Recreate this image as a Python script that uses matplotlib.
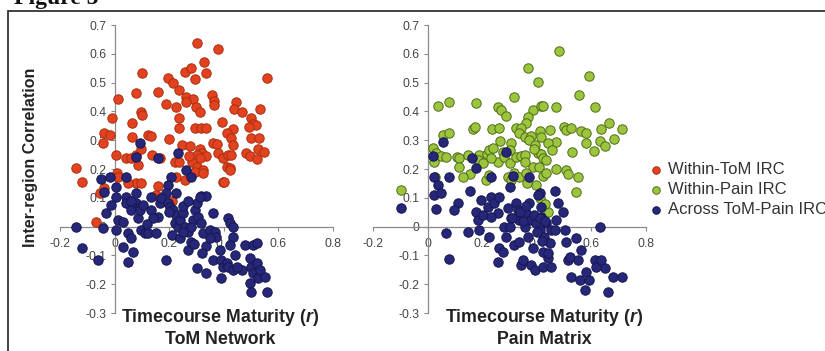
import numpy as np
import matplotlib
matplotlib.use('Agg')
import matplotlib.pyplot as plt
from matplotlib.ticker import FuncFormatter
from matplotlib.patches import Rectangle

plt.rcParams['font.family'] = ['Liberation Sans', 'DejaVu Sans']
plt.rcParams['mathtext.fontset'] = 'custom'
plt.rcParams['mathtext.it'] = 'Liberation Sans:bold:italic'
plt.rcParams['mathtext.rm'] = 'Liberation Sans:bold'

# ---- data: (timecourse maturity r, inter-region correlation)
within_tom = [
    (0.300, 0.636), (0.377, 0.615), (0.327, 0.573), (0.559, 0.515), (0.257, 0.538), (0.279, 0.550),
    (0.334, 0.534), (0.296, 0.511), (0.100, 0.534), (0.194, 0.515), (0.214, 0.497), (0.235, 0.476),
    (0.159, 0.468), (0.013, 0.442), (0.080, 0.463), (0.188, 0.426), (0.224, 0.416), (0.260, 0.450),
    (0.287, 0.443), (0.260, 0.434), (0.355, 0.457), (0.363, 0.437), (0.363, 0.422), (0.297, 0.414),
    (0.312, 0.399), (0.446, 0.434), (0.437, 0.408), (0.468, 0.399), (0.532, 0.410), (0.095, 0.399),
    (0.100, 0.388), (0.065, 0.361), (-0.009, 0.376), (0.236, 0.376), (0.236, 0.343), (0.294, 0.341),
    (0.318, 0.343), (0.333, 0.343), (0.394, 0.364), (0.435, 0.338), (0.410, 0.324), (0.499, 0.376),
    (0.508, 0.355), (0.518, 0.353), (0.493, 0.347), (-0.037, 0.324), (-0.018, 0.318), (-0.043, 0.289),
    (0.065, 0.310), (0.122, 0.318), (0.135, 0.314), (0.198, 0.303), (0.361, 0.289), (0.376, 0.286),
    (0.426, 0.306), (0.435, 0.283), (0.498, 0.306), (0.528, 0.306), (0.248, 0.283), (0.275, 0.279),
    (0.312, 0.271), (0.320, 0.256), (0.300, 0.248), (0.336, 0.245), (0.312, 0.237), (0.379, 0.254),
    (0.398, 0.237), (0.416, 0.248), (0.428, 0.248), (0.483, 0.256), (0.495, 0.245), (0.520, 0.233),
    (0.526, 0.271), (0.547, 0.260), (0.006, 0.248), (0.043, 0.237), (0.061, 0.237), (0.080, 0.248),
    (0.095, 0.271), (0.137, 0.248), (0.165, 0.237), (0.220, 0.225), (0.236, 0.225), (0.284, 0.225),
    (0.273, 0.245), (0.300, 0.208), (0.322, 0.197), (0.410, 0.208), (0.422, 0.202), (0.398, 0.156),
    (-0.143, 0.202), (-0.119, 0.156), (0.257, 0.162), (0.086, 0.214), (0.080, 0.150), (0.098, 0.150),
    (0.159, 0.141), (0.226, 0.173), (0.049, 0.150), (-0.055, 0.116), (-0.037, 0.133), (-0.067, 0.017),
    (0.009, 0.185), (0.012, 0.173), (0.153, 0.110), (0.294, 0.190), (0.324, 0.185), (0.400, 0.156),
    (0.422, 0.196), (0.210, 0.090),
]

across_tom = [
    (0.092, 0.289), (0.077, 0.240), (0.159, 0.237), (0.232, 0.256), (0.260, 0.197), (0.281, 0.173),
    (-0.049, 0.164), (-0.016, 0.173), (0.040, 0.171), (0.006, 0.139), (-0.039, 0.121), (0.208, 0.173),
    (0.196, 0.144), (0.190, 0.115), (0.226, 0.115), (0.318, 0.107), (0.336, 0.107), (0.080, 0.115),
    (0.043, 0.104), (0.135, 0.104), (-0.143, 0.000), (-0.119, -0.075), (-0.061, -0.116), (-0.043, -0.006),
    (-0.031, 0.046), (-0.012, 0.075), (0.006, 0.104), (0.006, -0.012), (0.012, 0.023), (0.031, 0.017),
    (0.043, 0.081), (0.049, -0.023), (0.061, -0.041), (0.067, -0.087), (0.049, -0.122), (0.061, 0.058),
    (0.080, 0.081), (0.086, 0.029), (0.092, 0.069), (0.098, -0.012), (0.092, 0.058), (0.104, 0.075),
    (0.110, -0.023), (0.122, -0.023), (0.135, 0.058), (0.153, -0.023), (0.159, 0.035), (0.165, 0.081),
    (0.171, 0.098), (0.190, -0.116), (0.196, 0.081), (0.202, 0.069), (0.214, 0.058), (0.226, 0.040),
    (0.220, 0.011), (0.232, 0.000), (0.239, 0.023), (0.251, 0.046), (0.257, 0.000), (0.269, -0.018),
    (0.269, -0.081), (0.281, -0.052), (0.287, 0.023), (0.294, 0.058), (0.300, 0.081), (0.312, 0.104),
    (0.306, 0.035), (0.318, 0.011), (0.324, -0.023), (0.336, -0.069), (0.300, -0.145), (0.336, -0.162),
    (0.349, -0.012), (0.361, 0.046), (0.367, -0.018), (0.373, -0.035), (0.361, -0.116), (0.385, -0.081),
    (0.391, -0.116), (0.398, -0.139), (0.391, -0.180), (0.410, -0.127), (0.416, 0.029), (0.422, 0.011),
    (0.434, 0.000), (0.434, -0.035), (0.422, -0.064), (0.416, -0.139), (0.434, -0.151), (0.465, -0.151),
    (0.477, -0.064), (0.508, -0.064), (0.520, -0.058), (0.495, -0.110), (0.501, -0.139), (0.508, -0.162),
    (0.495, -0.197), (0.501, -0.226), (0.520, -0.127), (0.526, -0.180), (0.532, -0.151), (0.550, -0.174),
    (0.557, -0.226), (0.210, -0.030), (0.240, -0.040), (0.290, -0.060), (0.320, -0.090), (0.350, -0.040),
    (0.280, 0.000), (0.440, -0.100), (0.450, -0.140), (0.030, -0.070), (0.250, -0.020), (0.200, 0.050),
    (0.140, 0.030), (0.120, 0.010), (0.060, 0.090), (0.250, 0.070), (0.270, 0.090),
]

within_pain = [
    (0.481, 0.611), (0.369, 0.549), (0.404, 0.501), (0.593, 0.524), (0.554, 0.457), (0.318, 0.451),
    (0.037, 0.419), (0.080, 0.433), (0.177, 0.428), (0.259, 0.416), (0.269, 0.405), (0.287, 0.384),
    (0.385, 0.405), (0.416, 0.419), (0.422, 0.419), (0.471, 0.416), (0.612, 0.416), (0.367, 0.382),
    (0.361, 0.361), (0.324, 0.341), (0.343, 0.341), (0.336, 0.324), (0.165, 0.339), (0.175, 0.345),
    (0.235, 0.339), (0.261, 0.341), (0.055, 0.318), (0.080, 0.324), (0.265, 0.298), (0.306, 0.289),
    (0.355, 0.312), (0.379, 0.314), (0.373, 0.301), (0.392, 0.283), (0.410, 0.333), (0.416, 0.312),
    (0.447, 0.335), (0.471, 0.295), (0.498, 0.345), (0.508, 0.335), (0.526, 0.341), (0.563, 0.332),
    (0.579, 0.324), (0.581, 0.289), (0.636, 0.338), (0.663, 0.359), (0.713, 0.339), (0.683, 0.304),
    (0.630, 0.297), (0.648, 0.281), (0.609, 0.263), (0.530, 0.260), (0.018, 0.272), (0.031, 0.254),
    (0.049, 0.245), (0.024, 0.225), (0.067, 0.241), (0.106, 0.243), (0.116, 0.237), (0.147, 0.249),
    (0.190, 0.249), (0.184, 0.231), (0.157, 0.183), (0.114, 0.208), (0.028, 0.173), (0.217, 0.252),
    (0.224, 0.266), (0.241, 0.272), (0.257, 0.225), (0.232, 0.237), (0.214, 0.162), (0.224, 0.179),
    (0.204, 0.220), (0.275, 0.260), (0.281, 0.243), (0.300, 0.220), (0.294, 0.173), (0.318, 0.187),
    (0.306, 0.162), (0.334, 0.173), (0.324, 0.241), (0.343, 0.245), (0.355, 0.249), (0.358, 0.225),
    (0.404, 0.254), (0.416, 0.252), (0.422, 0.237), (0.434, 0.231), (0.385, 0.208), (0.407, 0.208),
    (0.422, 0.176), (0.434, 0.187), (0.398, 0.144), (0.361, 0.185), (0.365, 0.150), (0.471, 0.199),
    (0.508, 0.196), (0.514, 0.183), (0.550, 0.173), (0.542, 0.121), (-0.098, 0.127), (0.128, 0.173),
    (0.410, 0.100), (0.440, 0.050), (0.430, 0.080), (0.440, 0.290), (0.455, 0.265), (0.390, 0.270),
    (0.300, 0.265),
]

across_pain = [
    (0.055, 0.295), (0.018, 0.245), (0.161, 0.239), (0.177, 0.202), (0.287, 0.260), (0.232, 0.173),
    (0.312, 0.177), (0.371, 0.173), (0.024, 0.173), (0.080, 0.173), (0.300, 0.139), (0.410, 0.115),
    (0.468, 0.125), (0.157, 0.125), (0.037, 0.144), (0.024, 0.110), (0.049, 0.115), (-0.098, 0.064),
    (0.031, 0.060), (0.067, -0.023), (0.080, -0.114), (0.110, 0.081), (0.098, 0.058), (0.147, -0.018),
    (0.177, 0.052), (0.184, 0.023), (0.190, -0.012), (0.196, 0.092), (0.202, 0.040), (0.226, -0.035),
    (0.220, 0.069), (0.232, 0.104), (0.245, 0.081), (0.263, 0.104), (0.257, 0.046), (0.232, 0.035),
    (0.263, -0.075), (0.275, -0.087), (0.257, -0.122), (0.287, -0.035), (0.294, 0.064), (0.306, 0.029),
    (0.318, -0.064), (0.324, 0.081), (0.331, 0.058), (0.336, 0.023), (0.343, -0.134), (0.349, -0.116),
    (0.355, 0.000), (0.361, 0.046), (0.367, -0.035), (0.373, 0.081), (0.379, 0.023), (0.385, -0.075),
    (0.379, -0.134), (0.392, -0.151), (0.398, 0.011), (0.404, 0.110), (0.410, -0.012), (0.416, 0.069),
    (0.416, 0.035), (0.422, -0.087), (0.422, -0.140), (0.428, -0.035), (0.434, 0.011), (0.440, -0.110),
    (0.447, -0.058), (0.453, -0.012), (0.465, -0.012), (0.477, 0.081), (0.495, 0.052), (0.471, 0.023),
    (0.504, -0.012), (0.508, -0.052), (0.514, -0.116), (0.520, -0.104), (0.526, -0.174), (0.544, -0.041),
    (0.550, -0.116), (0.557, -0.185), (0.563, -0.081), (0.575, -0.220), (0.581, -0.156), (0.593, -0.185),
    (0.612, -0.116), (0.618, -0.140), (0.630, 0.000), (0.636, -0.116), (0.648, -0.145), (0.661, -0.226),
    (0.679, -0.174), (0.713, -0.176), (0.453, -0.139), (0.336, -0.052), (0.280, 0.000), (0.310, 0.030),
    (0.340, 0.050), (0.360, 0.070), (0.390, 0.040), (0.400, -0.020), (0.420, -0.050), (0.440, -0.090),
    (0.410, 0.030), (0.430, 0.020), (0.300, 0.000), (0.350, 0.020),
]

x_ticks = [-0.2, 0, 0.2, 0.4, 0.6, 0.8]
y_ticks = [-0.3, -0.2, -0.1, 0, 0.1, 0.2, 0.3, 0.4, 0.5, 0.6, 0.7]
panel_names = ['ToM Network', 'Pain Matrix']
legend_labels = ['Within-ToM IRC', 'Within-Pain IRC', 'Across ToM-Pain IRC']

red = ('#e2421f', '#a8300f')
green = ('#9cc43c', '#4e6d18')
navy = ('#27277a', '#16164f')

W, H = 825, 351
fig = plt.figure(figsize=(W / 100, H / 100), dpi=100)

fmt = FuncFormatter(lambda v, p: '0' if abs(v) < 1e-9 else ('%.1f' % v))


def setup(ax):
    ax.set_xlim(-0.2, 0.8)
    ax.set_ylim(-0.3, 0.7)
    ax.set_axisbelow(True)
    for s in ['top', 'right']:
        ax.spines[s].set_visible(False)
    ax.spines['left'].set_position(('data', 0))
    ax.spines['bottom'].set_position(('data', 0))
    for s in ['left', 'bottom']:
        ax.spines[s].set_color('#8a8a8a')
        ax.spines[s].set_linewidth(0.9)
    ax.set_xticks(x_ticks)
    ax.set_yticks(y_ticks)
    ax.xaxis.set_major_formatter(fmt)
    ax.yaxis.set_major_formatter(fmt)
    ax.tick_params(axis='both', direction='out', length=3, width=0.8, color='#8a8a8a',
                   labelsize=8.7, labelcolor='#444444')
    ax.tick_params(axis='x', pad=5)
    ax.tick_params(axis='y', pad=3)
    ax.patch.set_alpha(0)


def dots(ax, pts, col, label):
    a = np.array(pts)
    return ax.scatter(a[:, 0], a[:, 1], s=46, c=col[0], edgecolors=col[1],
                      linewidths=0.7, label=label, zorder=3)


ax1 = fig.add_axes([60 / W, 1 - 313 / H, 273 / W, 288 / H])
ax2 = fig.add_axes([373 / W, 1 - 313 / H, 273 / W, 288 / H])
setup(ax1)
setup(ax2)

h1 = dots(ax1, within_tom, red, legend_labels[0])
dots(ax1, across_tom, navy, legend_labels[2])
h2 = dots(ax2, within_pain, green, legend_labels[1])
h3 = dots(ax2, across_pain, navy, legend_labels[2])

fig.legend([h1, h2, h3], legend_labels, loc='upper left',
           bbox_to_anchor=(643 / W, 1 - 154 / H), frameon=False, borderpad=0,
           handlelength=0.58, handletextpad=0.42, labelspacing=0.3,
           prop={'size': 12}, labelcolor='#333333', markerscale=0.8)

# axis titles
for cx, name in zip([220, 544], panel_names):
    fig.text(cx / W, 1 - 318 / H, r'Timecourse Maturity ($\mathit{r}$)', ha='center', va='center',
             fontsize=12.8, fontweight='bold', color='#222222')
    fig.text(cx / W, 1 - 340 / H, name, ha='center', va='center',
             fontsize=12.8, fontweight='bold', color='#222222')

fig.text(31 / W, 1 - 157 / H, 'Inter-region Correlation', rotation=90, ha='center', va='center',
         fontsize=11.5, fontweight='bold', color='#222222')

# frame of the figure panel and the clipped heading above it
fig.patches.append(Rectangle((8 / W, -0.2), 1.1, 1.2 - 11 / H, transform=fig.transFigure,
                             fill=False, edgecolor='#333333', linewidth=1.3))
fig.text(14 / W, 1 - 4 / H, 'Figure 5', ha='left', va='baseline', fontsize=17,
         fontweight='bold', family='Liberation Serif', color='#111111')

fig.savefig('out.png', dpi=100)
